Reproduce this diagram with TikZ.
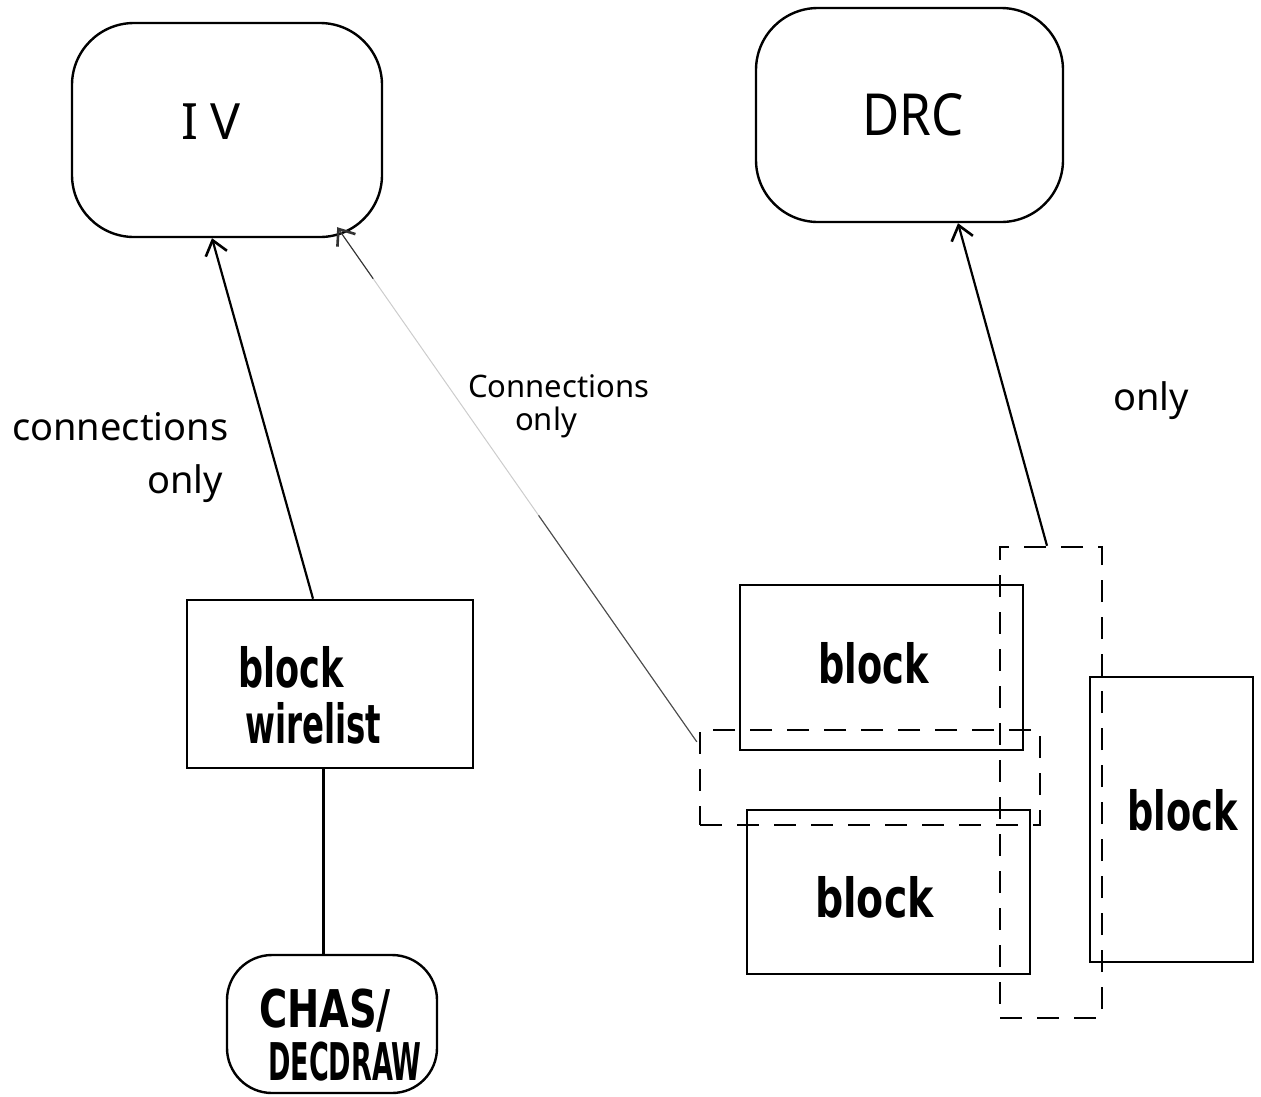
\documentclass[tikz,border=0pt]{standalone}
\usepackage{fontspec}
\usepackage{graphicx}
\setmainfont{Noto Sans}
\newfontfamily\heavy{DejaVu Sans}
\usetikzlibrary{arrows.meta,calc}

% horizontally squeezed text, for the narrow hand lettering
\newcommand{\narrow}[2]{\scalebox{#1}[1]{#2}}
\newcommand{\fs}[1]{\fontsize{#1}{#1}\selectfont}

\tikzset{
  box/.style={draw, line width=2.6pt, inner sep=0pt, minimum width=#1},
  tool/.style={draw, line width=2.4pt, inner sep=0pt, rounded corners=#1},
  dashbox/.style={draw, line width=2.4pt, dash pattern=on 22pt off 15pt, inner sep=0pt},
  barb/.style={-{Straight Barb[length=14pt,width=22pt,line width=2.6pt]}},
  link/.style={barb, line width=2.2pt},
  plain/.style={line width=3pt},
  faint/.style={line width=1pt, draw=black!20},
  lbl/.style={inner sep=0pt, anchor=base west},
  clbl/.style={inner sep=0pt, anchor=base},
  bold/.style={font=\heavy\bfseries},
}

\begin{document}
\begin{tikzpicture}[x=1pt,y=-1pt]
  \useasboundingbox (0,0) rectangle (1261,1096);

  % tools
  \node[tool=62, minimum width=310pt, minimum height=214pt] (IV)  at (227,130) {};
  \node[tool=62, minimum width=307pt, minimum height=214pt] (DRC) at (909.5,115) {};
  \node[tool=45, minimum width=210pt, minimum height=138pt] (CHAS) at (332,1024) {};

  % blocks
  \node[box=286pt, minimum height=168pt] (wl) at (330,684) {};
  \node[box=283pt, minimum height=165pt] (b1) at (881.5,667.5) {};
  \node[box=283pt, minimum height=164pt] (b2) at (888.5,892) {};
  \node[box=163pt, minimum height=285pt] (b3) at (1171.5,819.5) {};

  % connection regions
  \node[dashbox, minimum width=340pt, minimum height=95pt]  (A) at (870,777.5) {};
  \node[dashbox, minimum width=102pt, minimum height=471pt] (B) at (1051,782.5) {};

  % texts
  \node[inner sep=0pt] (IVt) at (211,122) {\fs{50}I\hspace{12pt}V};
  \node[inner sep=0pt] (DRCt) at (913,115) {\fs{58}\narrow{0.88}{DRC}};

  \node[lbl] (cl1) at (12,440) {\fs{38}connections};
  \node[lbl] (cl2) at (147,493) {\fs{38}only};
  \node[lbl] (cm1) at (468,397) {\fs{31}Connections};
  \node[lbl] (cm2) at (515,430) {\fs{31}only};
  \node[lbl] (cr)  at (1113,410) {\fs{38}only};

  \node[lbl, bold] (wlt1) at (238,687) {\fs{54}\narrow{0.65}{block}};
  \node[lbl, bold] (wlt2) at (245,743) {\fs{54}\narrow{0.6}{wirelist}};
  \node[lbl, bold] (b1t) at (818,683) {\fs{54}\narrow{0.68}{block}};
  \node[lbl, bold] (b2t) at (815,917) {\fs{54}\narrow{0.73}{block}};
  \node[lbl, bold] (b3t) at (1127,830) {\fs{54}\narrow{0.68}{block}};

  \node[clbl, bold] (ch1) at (325,1027) {\fs{52}\narrow{0.74}{CHAS/}};
  \node[clbl, bold] (ch2) at (345,1080) {\fs{52}\narrow{0.52}{DECDRAW}};

  % connectors
  \draw[link] ($(wl.north)+(-17,0)$) -- ($(IV.south)+(-15,0)$);
  \draw[plain] ($(wl.south)+(-7,0)$) coordinate (wlfoot) -- (wlfoot |- CHAS.north);
  \draw[link] ($(B.north)+(-4,0)$) -- ($(DRC.south)+(48.5,0)$);

  % faint connection from the dashed region up to IV
  \coordinate (cfoot) at ($(A.north west)+(-2,13)$);
  \coordinate (chead) at ($(IV.south east)+(-46,-11)$);
  \draw[faint] (cfoot) -- (chead);
  \draw[line width=1.1pt, draw=black!70] (cfoot) -- ($(cfoot)!0.44!(chead)$);
  \draw[line width=1.1pt, draw=black!80, barb]
    ($(cfoot)!0.9!(chead)$) -- (chead);
\end{tikzpicture}
\end{document}
